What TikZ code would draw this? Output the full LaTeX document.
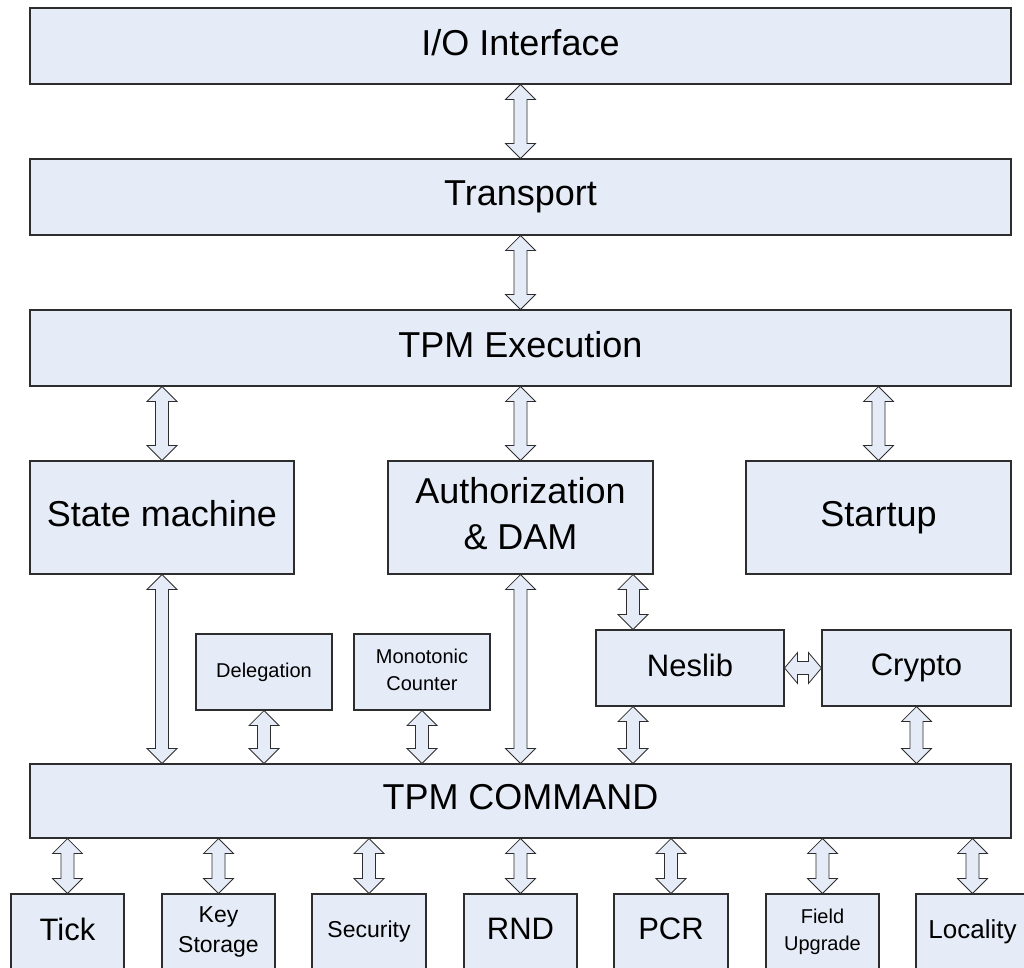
\documentclass[tikz,border=0pt]{standalone}
\usepackage{fontspec}
\setmainfont{Liberation Sans}
\usetikzlibrary{calc}
\definecolor{boxfill}{RGB}{230,236,247}
\definecolor{edge}{RGB}{45,45,45}
\tikzset{
  box/.style={rectangle, draw=edge, fill=boxfill, line width=1.1pt, inner sep=0pt, align=center,
    execute at begin node={\vphantom{Ag}}, execute at end node={\vphantom{Ag}}},
  big/.style={font=\fontsize{36}{46}\selectfont},
  mid/.style={font=\fontsize{31}{38}\selectfont},
  lab/.style={font=\fontsize{26}{32}\selectfont},
  sml/.style={font=\fontsize{23}{30}\selectfont},
  tiny/.style={font=\fontsize{20}{27}\selectfont},
  fat/.style={draw=edge, fill=boxfill, line width=0.8pt, line join=miter},
}
\newcommand\fatV[3]{%
  \path[fat] let \p1=(#1.south), \p2=(#2.north), \p3=(#3) in
  (\x3,\y1) -- ({\x3+15pt},{\y1-15pt}) -- ({\x3+6.5pt},{\y1-15pt}) --
  ({\x3+6.5pt},{\y2+15pt}) -- ({\x3+15pt},{\y2+15pt}) -- (\x3,\y2) --
  ({\x3-15pt},{\y2+15pt}) -- ({\x3-6.5pt},{\y2+15pt}) --
  ({\x3-6.5pt},{\y1-15pt}) -- ({\x3-15pt},{\y1-15pt}) -- cycle;}
\newcommand\fatH[2]{%
  \path[fat] let \p1=(#1.east), \p2=(#2.west) in
  (\x1,\y1) -- ({\x1+13pt},{\y1+15.5pt}) -- ({\x1+13pt},{\y1+6.5pt}) --
  ({\x2-13pt},{\y1+6.5pt}) -- ({\x2-13pt},{\y1+15.5pt}) -- (\x2,\y1) --
  ({\x2-13pt},{\y1-15.5pt}) -- ({\x2-13pt},{\y1-6.5pt}) --
  ({\x1+13pt},{\y1-6.5pt}) -- ({\x1+13pt},{\y1-15.5pt}) -- cycle;}
\begin{document}
\begin{tikzpicture}[x=1pt,y=-1pt]
\clip (0,0) rectangle (1024,967);
\fill[white] (0,0) rectangle (1024,967);
% top layers
\node[box,big,minimum width=981,minimum height=76] (io) at (520.5,46) {I/O Interface};
\node[box,big,minimum width=981,minimum height=76] (tr) at (520.5,197) {Transport};
\node[box,big,minimum width=981,minimum height=76] (ex) at (520.5,348) {TPM Execution};
% middle row
\node[box,big,minimum width=264,minimum height=113] (sm) at (162,517.5) {State machine};
\node[box,big,minimum width=265,minimum height=113] (au) at (520.5,517.5) {Authorization\\\& DAM};
\node[box,big,minimum width=265,minimum height=113] (st) at (878.5,517.5) {Startup};
% small row
\node[box,tiny,minimum width=136,minimum height=76] (de) at (264,672) {Delegation};
\node[box,tiny,minimum width=136,minimum height=76] (mo) at (422,672) {Monotonic\\Counter};
\node[box,mid,minimum width=188,minimum height=76] (ne) at (690,668) {Neslib};
\node[box,mid,minimum width=189,minimum height=76] (cr) at (916.5,668) {Crypto};
% command
\node[box,big,minimum width=981,minimum height=74] (cm) at (520.5,801) {TPM COMMAND};
% bottom row
\node[box,mid,minimum width=113,minimum height=76] (ti) at (67.5,932) {Tick};
\node[box,sml,minimum width=113,minimum height=76] (ks) at (218.5,932) {Key\\Storage};
\node[box,sml,minimum width=114,minimum height=76] (se) at (369,932) {Security};
\node[box,mid,minimum width=113,minimum height=76] (rn) at (520.5,932) {RND};
\node[box,mid,minimum width=114,minimum height=76] (pc) at (671,932) {PCR};
\node[box,tiny,minimum width=113,minimum height=76] (fu) at (822.5,932) {Field\\Upgrade};
\node[box,lab,minimum width=113,minimum height=76] (lo) at (972.5,932) {Locality};
% connectors
\fatV{io}{tr}{io}
\fatV{tr}{ex}{tr}
\fatV{ex}{sm}{sm}
\fatV{ex}{au}{au}
\fatV{ex}{st}{st}
\fatV{sm}{cm}{sm}
\fatV{de}{cm}{de}
\fatV{mo}{cm}{mo}
\fatV{au}{cm}{au}
\fatV{au}{ne}{633,0}
\fatV{ne}{cm}{633,0}
\fatV{cr}{cm}{cr}
\fatH{ne}{cr}
\fatV{cm}{ti}{ti}
\fatV{cm}{ks}{ks}
\fatV{cm}{se}{se}
\fatV{cm}{rn}{rn}
\fatV{cm}{pc}{pc}
\fatV{cm}{fu}{fu}
\fatV{cm}{lo}{lo}
\end{tikzpicture}
\end{document}
